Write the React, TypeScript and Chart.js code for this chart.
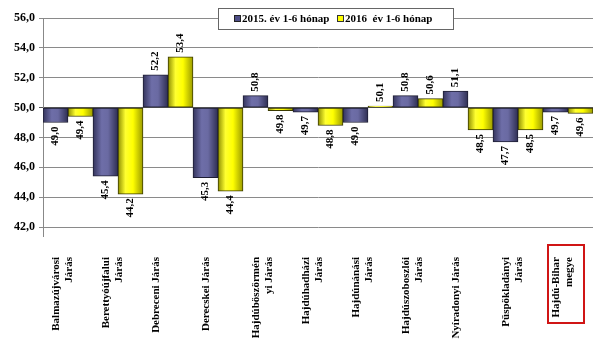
import { useEffect, useRef } from 'react';
import { Chart, registerables } from 'chart.js';

Chart.register(...registerables);

const categories: (string | string[])[] = [
  ['Balmazújvárosi', 'Járás'],
  ['Berettyóújfalui', 'Járás'],
  'Debreceni Járás',
  'Derecskei Járás',
  ['Hajdúböszörmén', 'yi Járás'],
  ['Hajdúhadházi', 'Járás'],
  ['Hajdúnánási', 'Járás'],
  ['Hajdúszoboszlói', 'Járás'],
  'Nyíradonyi Járás',
  ['Püspökladányi', 'Járás'],
  ['Hajdú-Bihar', 'megye'],
];
const series2015 = [49.0, 45.4, 52.2, 45.3, 50.8, 49.7, 49.0, 50.8, 51.1, 47.7, 49.7];
const series2016 = [49.4, 44.2, 53.4, 44.4, 49.8, 48.8, 50.1, 50.6, 48.5, 48.5, 49.6];
const seriesNames = ['2015. év 1-6 hónap', '2016  év 1-6 hónap'];
const yMin = 42;
const yMax = 56;
const yStep = 2;
const baseline = 50;

const FONT = '"Liberation Serif", "Times New Roman", serif';
const fmt = (v: number) => v.toFixed(1).replace('.', ',');

const gradStops = [
  [[0, '#34345c'], [0.35, '#6e6ea8'], [0.6, '#6a6aa2'], [1, '#2e2e52']],
  [[0, '#8f8f00'], [0.3, '#ffff30'], [0.6, '#ffff00'], [1, '#9a9a00']],
];
const solid = ['#5a5a92', '#ffff00'];

function barFill(dsIndex: number) {
  return (ctx: any) => {
    const chart = ctx.chart;
    const xs = chart.scales?.x;
    if (!xs || ctx.dataIndex == null || ctx.type !== 'data') return solid[dsIndex];
    const c = xs.getPixelForValue(ctx.dataIndex);
    const w = (xs.getPixelForValue(1) - xs.getPixelForValue(0)) / 2;
    if (!isFinite(c) || !isFinite(w)) return solid[dsIndex];
    const left = dsIndex === 0 ? c - w : c;
    const g = chart.ctx.createLinearGradient(left, 0, left + w, 0);
    for (const [o, col] of gradStops[dsIndex]) g.addColorStop(o as number, col as string);
    return g;
  };
}

const valueLabels = {
  id: 'valueLabels',
  afterDatasetsDraw(chart: any) {
    const ctx = chart.ctx;
    ctx.save();
    ctx.font = `bold 11px ${FONT}`;
    ctx.fillStyle = '#000';
    ctx.textBaseline = 'middle';
    chart.data.datasets.forEach((ds: any, i: number) => {
      const meta = chart.getDatasetMeta(i);
      meta.data.forEach((bar: any, j: number) => {
        const v = ds.data[j];
        const up = v >= baseline;
        ctx.save();
        ctx.translate(bar.x, up ? bar.y - 4 : bar.y + 4);
        ctx.rotate(-Math.PI / 2);
        ctx.textAlign = up ? 'left' : 'right';
        ctx.fillText(fmt(v), 0, 0);
        ctx.restore();
      });
    });
    ctx.restore();
  },
};

const decorations = {
  id: 'decorations',
  afterDraw(chart: any) {
    const ctx = chart.ctx;
    const area = chart.chartArea;
    const xs = chart.scales.x;
    ctx.save();
    // y axis extension below plot
    ctx.strokeStyle = '#888';
    ctx.lineWidth = 1;
    ctx.beginPath();
    ctx.moveTo(Math.round(area.left) + 0.5, area.bottom);
    ctx.lineTo(Math.round(area.left) + 0.5, area.bottom + 10);
    ctx.stroke();

    // legend box
    const lx = 218.5, ly = 8.5, lw = 235, lh = 21;
    ctx.fillStyle = '#fff';
    ctx.fillRect(lx, ly, lw, lh);
    ctx.strokeStyle = '#666';
    ctx.strokeRect(lx, ly, lw, lh);
    ctx.font = `bold 11px ${FONT}`;
    ctx.textBaseline = 'middle';
    ctx.textAlign = 'left';
    const items = [
      { x: 234, color: '#4e4e86', border: '#222' },
      { x: 337, color: '#ffff00', border: '#333' },
    ];
    items.forEach((it, i) => {
      ctx.fillStyle = it.color;
      ctx.fillRect(it.x + 0.5, 15.5, 6, 6);
      ctx.strokeStyle = it.border;
      ctx.strokeRect(it.x + 0.5, 15.5, 6, 6);
      ctx.fillStyle = '#000';
      ctx.fillText(seriesNames[i], it.x + 8, 19.5);
    });

    // red highlight box around last category label
    const cx = xs.getPixelForValue(categories.length - 1);
    ctx.strokeStyle = '#d01515';
    ctx.lineWidth = 2;
    ctx.strokeRect(cx - 20, 245, 36, 78);
    ctx.restore();
  },
};

export default function App() {
  const ref = useRef<HTMLCanvasElement | null>(null);
  useEffect(() => {
    document.body.style.margin = '0';
    const canvas = ref.current;
    if (!canvas) return;
    const chart = new Chart(canvas, {
      type: 'bar',
      data: {
        labels: categories,
        datasets: [
          {
            label: seriesNames[0],
            data: series2015,
            base: baseline,
            backgroundColor: barFill(0),
            borderColor: '#1e1e33',
            borderWidth: 1,
            borderSkipped: false,
            categoryPercentage: 1,
            barPercentage: 1,
          } as any,
          {
            label: seriesNames[1],
            data: series2016,
            base: baseline,
            backgroundColor: barFill(1),
            borderColor: '#3a3a00',
            borderWidth: 1,
            borderSkipped: false,
            categoryPercentage: 1,
            barPercentage: 1,
          } as any,
        ],
      },
      options: {
        responsive: false,
        animation: false,
        layout: { padding: { left: 0, right: 13, top: 18, bottom: 0 } },
        plugins: {
          legend: { display: false },
          tooltip: { enabled: false },
        },
        scales: {
          x: {
            grid: { display: false, drawTicks: false },
            border: { display: false },
            ticks: {
              maxRotation: 90,
              minRotation: 90,
              autoSkip: false,
              padding: 30,
              labelOffset: -12,
              color: '#000',
              font: { family: FONT, size: 11, weight: 'bold', lineHeight: 1.2 },
            },
            afterFit: (scale: any) => {
              scale.height = 124;
              scale.paddingLeft = 0;
              scale.paddingRight = 0;
            },
          },
          y: {
            min: yMin,
            max: yMax,
            grid: {
              color: (c: any) => (c.tick && c.tick.value === baseline ? '#555' : '#8a8a8a'),
              tickLength: 4,
              lineWidth: 1,
            },
            border: { display: true, color: '#888' },
            ticks: {
              stepSize: yStep,
              padding: 4,
              color: '#000',
              font: { family: FONT, size: 12, weight: 'bold' },
              callback: (v: any) => fmt(Number(v)),
            },
            afterFit: (scale: any) => {
              scale.width = 43;
            },
          },
        },
      },
      plugins: [valueLabels, decorations],
    });
    return () => chart.destroy();
  }, []);
  return (
    <div style={{ width: 606, height: 351, background: '#fff' }}>
      <canvas ref={ref} width={606} height={351} />
    </div>
  );
}
